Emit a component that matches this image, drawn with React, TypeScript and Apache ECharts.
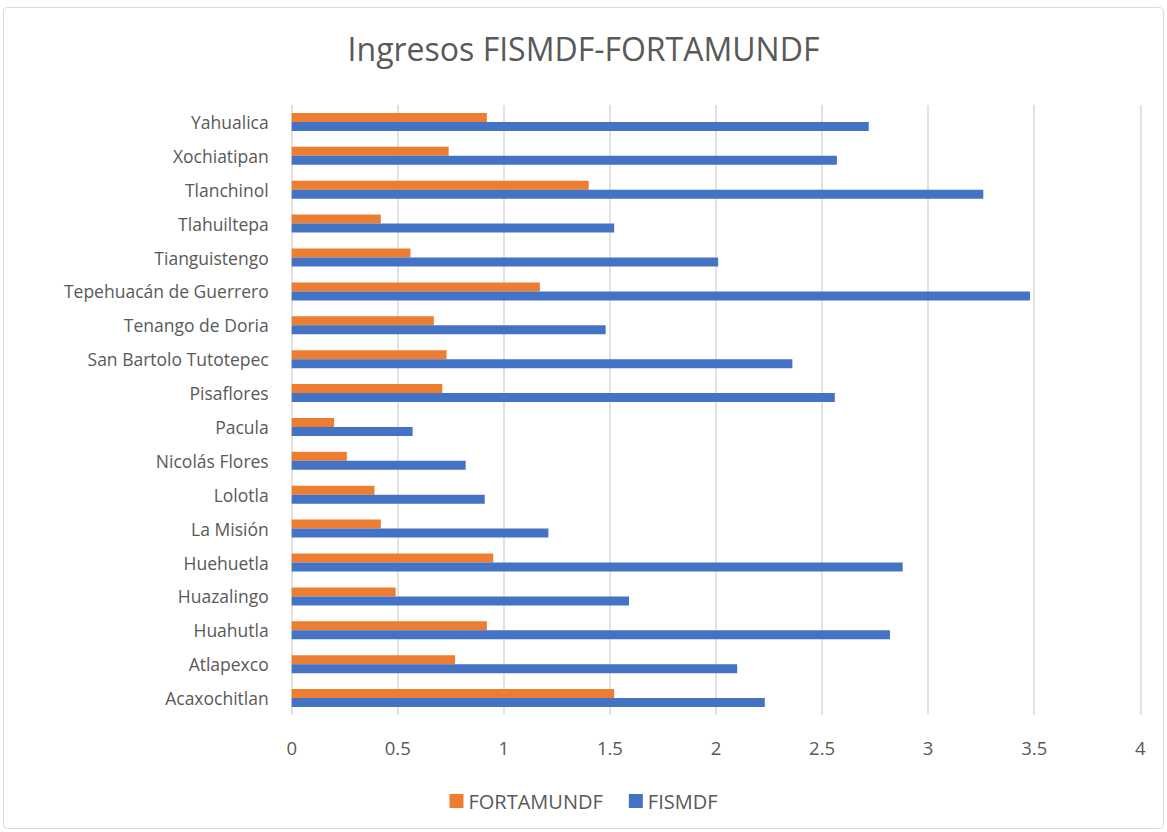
import React, { useEffect, useRef } from "react";
import * as echarts from "echarts";

const categories = [
  "Acaxochitlan",
  "Atlapexco",
  "Huahutla",
  "Huazalingo",
  "Huehuetla",
  "La Misión",
  "Lolotla",
  "Nicolás Flores",
  "Pacula",
  "Pisaflores",
  "San Bartolo Tutotepec",
  "Tenango de Doria",
  "Tepehuacán de Guerrero",
  "Tianguistengo",
  "Tlahuiltepa",
  "Tlanchinol",
  "Xochiatipan",
  "Yahualica",
];

const fortamundf = [1.52, 0.77, 0.92, 0.49, 0.95, 0.42, 0.39, 0.26, 0.2, 0.71, 0.73, 0.67, 1.17, 0.56, 0.42, 1.4, 0.74, 0.92];
const fismdf = [2.23, 2.1, 2.82, 1.59, 2.88, 1.21, 0.91, 0.82, 0.57, 2.56, 2.36, 1.48, 3.48, 2.01, 1.52, 3.26, 2.57, 2.72];

const xTicks = [0, 0.5, 1, 1.5, 2, 2.5, 3, 3.5, 4];

const FONT = "'Open Sans', 'Noto Sans', sans-serif";
const TEXT = "#595959";

export default function App() {
  const ref = useRef<HTMLDivElement>(null);
  useEffect(() => {
    document.body.style.margin = "0";
    if (!ref.current) return;
    const chart = echarts.init(ref.current, undefined, { renderer: "svg" });
    chart.setOption({
      animation: false,
      backgroundColor: "#ffffff",
      title: {
        text: "Ingresos FISMDF-FORTAMUNDF",
        left: "center",
        top: 27,
        textStyle: { fontFamily: FONT, fontSize: 32, fontWeight: "normal", color: TEXT },
      },
      legend: {
        bottom: 16,
        left: "center",
        itemWidth: 14,
        itemHeight: 14,
        itemGap: 26,
        icon: "rect",
        textStyle: { fontFamily: FONT, fontSize: 20, color: TEXT },
        data: ["FORTAMUNDF", "FISMDF"],
      },
      grid: { left: 291.7, right: 26.7, top: 105, bottom: 117 },
      xAxis: {
        type: "value",
        min: xTicks[0],
        max: xTicks[xTicks.length - 1],
        interval: 0.5,
        axisLine: { show: false },
        axisTick: { show: false },
        axisLabel: { fontFamily: FONT, fontSize: 18.5, color: TEXT, margin: 23 },
        splitLine: { lineStyle: { color: "#d9d9d9", width: 1.5 } },
      },
      yAxis: {
        type: "category",
        data: categories,
        axisLine: { show: false },
        axisTick: { show: false },
        axisLabel: { fontFamily: FONT, fontSize: 17.5, color: TEXT, margin: 23 },
      },
      series: [
        {
          name: "FORTAMUNDF",
          type: "bar",
          data: fortamundf,
          barWidth: 9,
          barGap: "0%",
          itemStyle: { color: "#ED7D31" },
        },
        {
          name: "FISMDF",
          type: "bar",
          data: fismdf,
          barWidth: 9,
          barGap: "0%",
          itemStyle: { color: "#4472C4" },
        },
      ],
      graphic: [
        {
          type: "rect",
          shape: { x: 3.5, y: 7.5, width: 1160, height: 821, r: 4 },
          style: { fill: "none", stroke: "#d9d9d9", lineWidth: 1 },
          z: 100,
        },
      ],
    });
    return () => chart.dispose();
  }, []);
  return <div ref={ref} style={{ width: 1167, height: 832 }} />;
}
